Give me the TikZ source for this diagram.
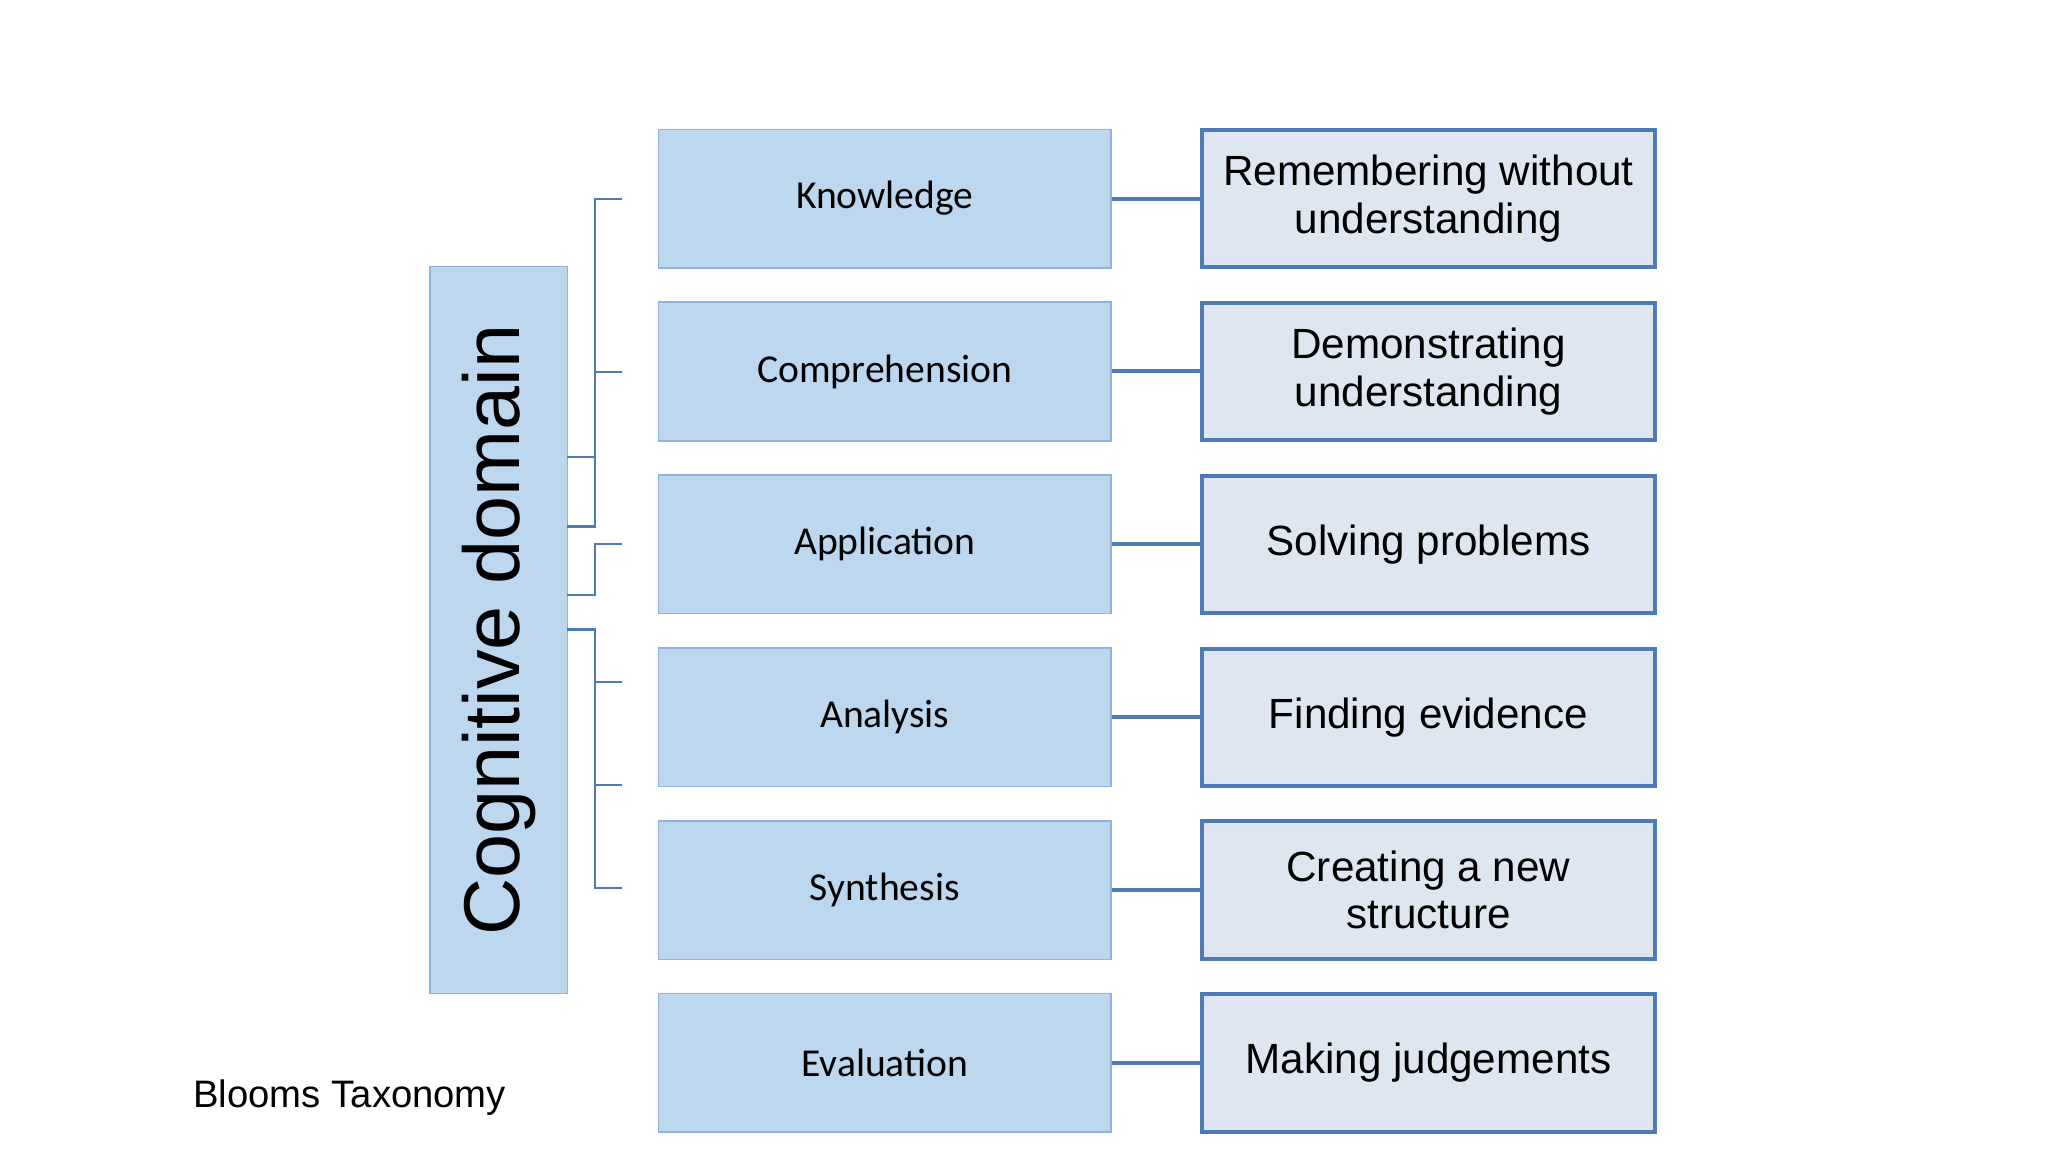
\documentclass[tikz,border=0pt]{standalone}
\usepackage{fontspec}
\setmainfont{Liberation Sans}
\newfontfamily\carfont{Carlito}
\begin{document}
\begin{tikzpicture}[x=1pt,y=-1pt,
 lbox/.style={draw=lborder,fill=lfill,line width=1.2pt,minimum width=343pt,minimum height=105pt,inner sep=0pt,font=\carfont\fontsize{30}{34}\selectfont},
 rbox/.style={draw=rborder,fill=rfill,line width=3pt,minimum width=343pt,minimum height=104pt,inner sep=0pt,align=center,font=\fontsize{32}{36}\selectfont},
 conn/.style={draw=rborder,line width=3pt},
 br/.style={draw=rborder,line width=1.6pt}]
\definecolor{lfill}{HTML}{BDD7EE}\definecolor{lborder}{HTML}{8DB3E2}
\definecolor{rfill}{HTML}{DEE6F1}\definecolor{rborder}{HTML}{4F7BB5}
\useasboundingbox (0,0) rectangle (1552,873);
\node[lbox] (k) at (670.5,150.5) {Knowledge};
\node[lbox] (c) at (670.5,281.5) {Comprehension};
\node[lbox] (a) at (670.5,412.5) {Application};
\node[lbox] (an) at (670.5,543.5) {Analysis};
\node[lbox] (s) at (670.5,674.5) {Synthesis};
\node[lbox] (e) at (670.5,805.5) {Evaluation};
\node[rbox] (rk) at (1082.5,150.5) {Remembering without\\understanding};
\node[rbox] (rc) at (1082.5,281.5) {Demonstrating\\understanding};
\node[rbox] (ra) at (1082.5,412.5) {Solving problems};
\node[rbox] (ran) at (1082.5,543.5) {Finding evidence};
\node[rbox] (rs) at (1082.5,674.5) {Creating a new\\structure};
\node[rbox] (re) at (1082.5,805.5) {Making judgements};
\foreach \p/\q in {k/rk,c/rc,a/ra,an/ran,s/rs,e/re} \draw[conn] (\p.east) -- (\q.west);
\node[draw=lborder,fill=lfill,line width=1.2pt,minimum width=551pt,minimum height=104pt,inner sep=0pt,rotate=90,font=\fontsize{60}{60}\selectfont] (cd) at (378,477.5) {Cognitive domain};
\coordinate (t1) at (471,151);\coordinate (t2) at (471,282);\coordinate (t3) at (471,412);
\coordinate (t4) at (471,517);\coordinate (t5) at (471,595);\coordinate (t6) at (471,673);
\draw[br] (430,346) -- (451,346);
\draw[br] (430,399) -- (451,399) -- (451,151) -- (t1);
\draw[br] (451,282) -- (t2);
\draw[br] (430,451) -- (451,451) -- (451,412) -- (t3);
\draw[br] (430,477) -- (451,477) -- (451,673) -- (t6);
\draw[br] (451,517) -- (t4);
\draw[br] (451,595) -- (t5);
\node[anchor=west,font=\fontsize{29}{32}\selectfont] (bt) at (143,832) {Blooms Taxonomy};
\end{tikzpicture}
\end{document}
